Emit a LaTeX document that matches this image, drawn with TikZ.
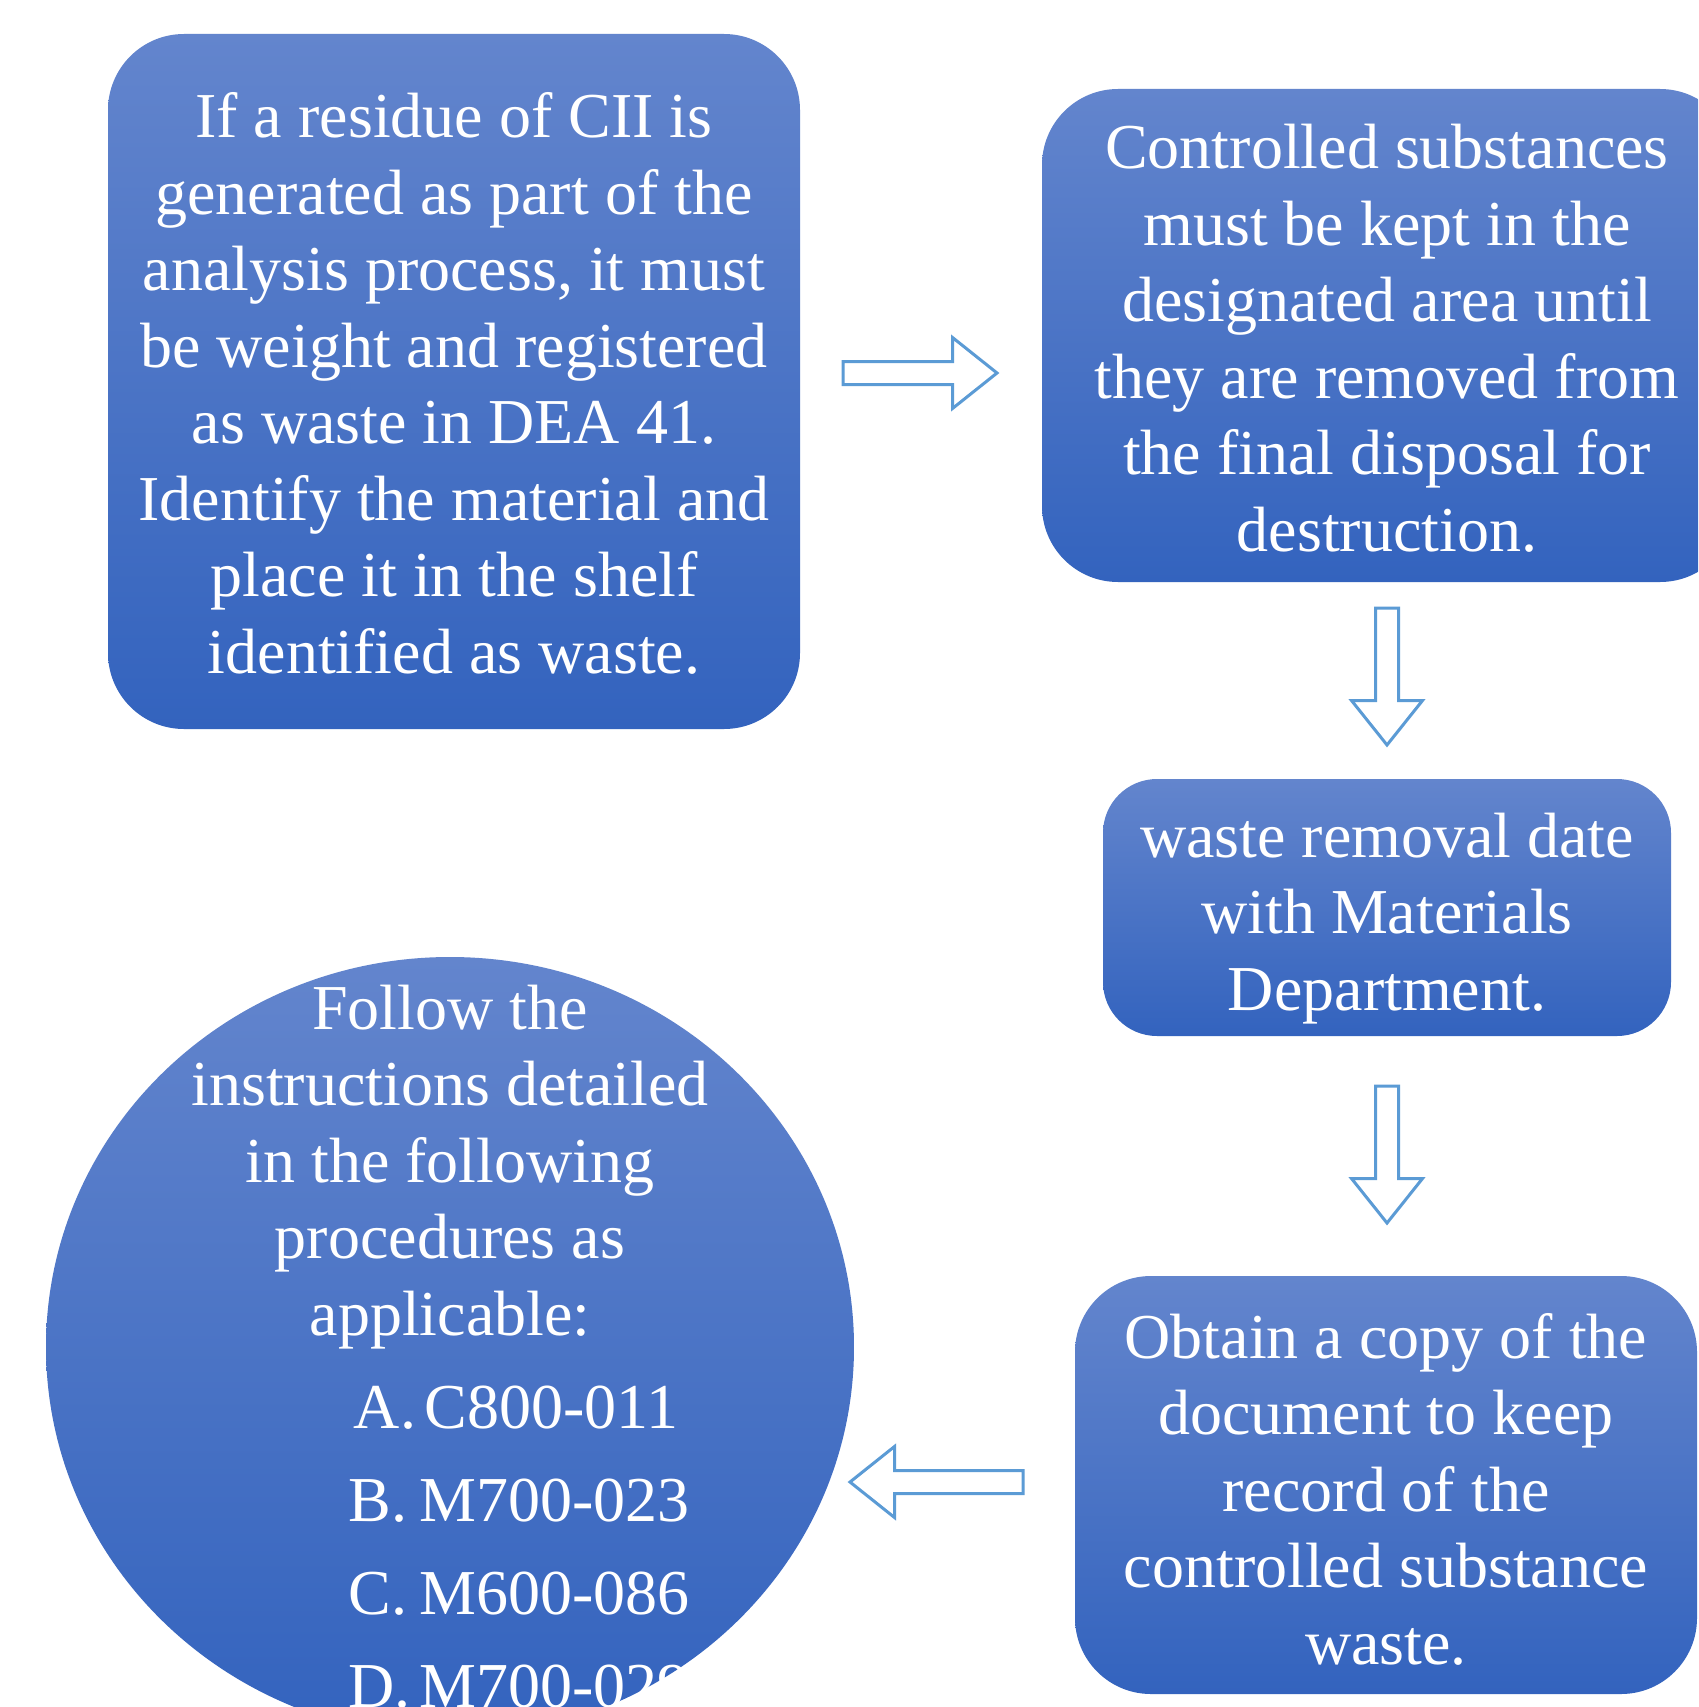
\documentclass[tikz,border=0pt]{standalone}
\usepackage{fontspec}
\setmainfont{Liberation Serif}
\usetikzlibrary{calc,shapes.geometric}
\definecolor{gtop}{RGB}{99,133,205}
\definecolor{gbot}{RGB}{51,99,190}
\definecolor{arrowblue}{RGB}{91,155,213}
\tikzset{
  flowbox/.style={rectangle, rounded corners=38pt, top color=gtop, bottom color=gbot, draw=none, inner sep=0pt},
  flowcircle/.style={ellipse, top color=gtop, bottom color=gbot, draw=none, inner sep=0pt},
  boxtext/.style={text=white, inner sep=0pt, anchor=base, font=\fontsize{32}{38.25}\selectfont},
  arrowline/.style={draw=arrowblue, fill=white, line width=1.5pt},
}
\newcommand\blockarrow[2]{%
  \coordinate (hb) at ($(#2)!22.25pt!(#1)$);
  \draw[arrowline] ($(#1)!5.75pt!90:(#2)$) -- ($(hb)!5.75pt!90:(#2)$) -- ($(hb)!17.75pt!90:(#2)$) -- (#2)
    -- ($(hb)!17.75pt!-90:(#2)$) -- ($(hb)!5.75pt!-90:(#2)$) -- ($(#1)!5.75pt!-90:(#2)$) -- cycle;}
\begin{document}
\begin{tikzpicture}[x=0.5pt,y=-0.5pt]
\useasboundingbox (0,0) rectangle (1698,1707);
\clip (0,0) rectangle (1698,1707);
\fill[white] (0,0) rectangle (1698,1707);
% shapes
\node[flowbox, minimum width=346pt, minimum height=347.5pt] (b1) at (454,381.5) {};
\node[flowbox, minimum width=347pt, minimum height=246.5pt] (b2) at (1389,335.5) {};
\node[flowbox, rounded corners=27pt, minimum width=284pt, minimum height=128.5pt] (b3) at (1387,907.5) {};
\node[flowbox, minimum width=311pt, minimum height=209pt] (b4) at (1386,1485) {};
\node[flowcircle, minimum width=404pt, minimum height=390pt] (c1) at (450,1347) {};
% texts
\node[boxtext] (t1) at (454,138) {\begin{tabular}[t]{@{}c@{}}If a residue of CII is\\generated as part of the\\analysis process, it must\\be weight and registered\\as waste in DEA 41.\\Identify the material and\\place it in the shelf\\identified as waste.\end{tabular}};
\node[boxtext] (t2) at (1387,169) {\begin{tabular}[t]{@{}c@{}}Controlled substances\\must be kept in the\\designated area until\\they are removed from\\the final disposal for\\destruction.\end{tabular}};
\node[boxtext] (t3) at (1387,857) {\begin{tabular}[t]{@{}c@{}}waste removal date\\with Materials\\Department.\end{tabular}};
\node[boxtext] (t4) at (1386,1358) {\begin{tabular}[t]{@{}c@{}}Obtain a copy of the\\document to keep\\record of the\\controlled substance\\waste.\end{tabular}};
\node[boxtext] (t5) at (450,1029) {\begin{tabular}[t]{@{}c@{}}Follow the\\instructions detailed\\in the following\\procedures as\\applicable:\end{tabular}};
\node[boxtext, anchor=base west] (t6) at (348,1428) {\begin{tabular}[t]{@{}p{35.5pt}@{}l@{}}\hspace*{2.7pt}A.&\hspace*{2.7pt}C800-011\\[8.25pt]B.&M700-023\\[8.25pt]C.&M600-086\\[8.25pt]D.&M700-029\end{tabular}};
% block arrows
\coordinate (a1s) at (843,373);  \coordinate (a1e) at (997,373);
\coordinate (a2s) at (1387,608); \coordinate (a2e) at (1387,745);
\coordinate (a3s) at (1387,1086); \coordinate (a3e) at (1387,1223);
\coordinate (a4s) at (1023,1482); \coordinate (a4e) at (850,1482);
\blockarrow{a1s}{a1e}
\blockarrow{a2s}{a2e}
\blockarrow{a3s}{a3e}
\blockarrow{a4s}{a4e}
\end{tikzpicture}
\end{document}
